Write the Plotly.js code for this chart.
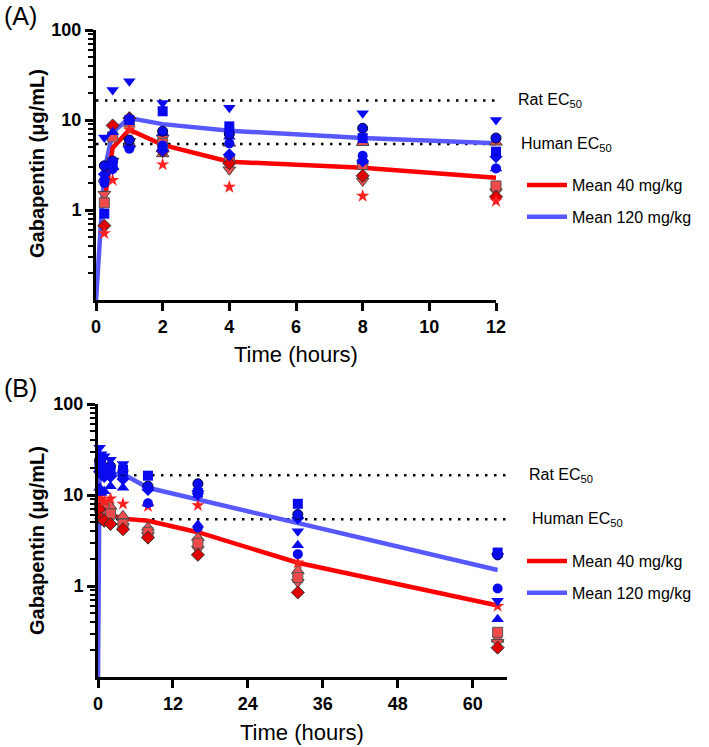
<!DOCTYPE html>
<html>
<head>
<meta charset="utf-8">
<script src="https://cdn.plot.ly/plotly-3.0.1.min.js"></script>
<style>
  html, body { margin: 0; background: #fff; overflow: hidden; }
  #chart { width: 709px; height: 747px; }
</style>
</head>
<body>
<div id="chart"></div>
<script>
// ---- panel A: first 12 h ----
const timeA = [0.25, 0.5, 1, 2, 4, 8, 12];
// 40 mg/kg animals
const a40_diamond = [0.67, 8.7, 10.5, 4.5, 3.3, 2.4, 1.4];
const a40_square  = [1.2, 6.5, 9.5, 5.5, 3.6, 3.2, 1.85];
const a40_triDown = [1.5, 3.5, 5.8, 6.3, 2.8, 2.1, 1.6];
const a40_star    = [0.55, 2.15, 7.8, 3.2, 1.8, 1.43, 1.26];
const a40_triUp   = [2.2, 3.0, 5.5, 4.2, 5.5, 5.6, 5.65];
// 120 mg/kg animals
const a120_circle  = [3.1, 3.5, 6.0, 7.5, 7.0, 8.1, 6.3];
const a120_circle2 = [2.0, 2.85, 4.8, 5.2, 5.5, 4.0, 2.9];
const a120_square  = [0.91, 3.3, 10.0, 12.5, 8.5, 6.3, 4.45];
const a120_triDown = [6.4, 21.5, 27, 15.4, 13.7, 11.9, 10.0];
const a120_diamond = [2.5, 2.9, 5.0, 4.6, 4.1, 3.5, 3.9];
const a120_triUp   = [2.3, 7.3, 10.5, 7.2, 6.5, 3.5, 2.9];
// means
const meanTimeA40 = [0.25, 0.5, 1, 2, 4, 8, 12];
const meanA40 = [1.25, 4.9, 7.8, 5.3, 3.44, 2.94, 2.28];
const meanTimeA120 = [0, 0.25, 0.5, 1, 2, 4, 8, 12];
const meanA120 = [0.1, 2.7, 7.3, 10.5, 9.0, 7.6, 6.3, 5.5];

// ---- panel B: up to 64 h ----
const timeB = [0.25, 0.5, 1, 2, 4, 8, 16, 32, 64];
const b40_diamond = [7.0, 5.5, 5.2, 4.8, 4.2, 3.4, 2.2, 0.85, 0.21];
const b40_square  = [8.0, 7.5, 7.0, 6.2, 4.8, 3.9, 2.95, 1.24, 0.31];
const b40_triDown = [7.5, 6.0, 6.0, 5.5, 4.5, 3.6, 2.54, 1.1, 0.24];
const b40_star    = [9.7, 9.0, 8.5, 9.1, 8.0, 7.5, 7.7, 1.8, 0.6];
const b40_triUp   = [8.5, 7.0, 6.5, 7.5, 5.9, 4.4, 3.4, 1.47, 0.26];
const b120_circle  = [24, 21, 20, 20.6, 18.5, 12.5, 13.3, 6.1, 2.2];
const b120_circle2 = [22, 19, 18, 17, 16, 8.1, 4.4, 2.24, 0.94];
const b120_square  = [20, 22, 19, 18, 19, 16.3, 10.6, 8.0, 2.33];
const b120_triDown = [33, 28, 26.6, 24.4, 21.9, 11.5, 9.8, 4.0, 0.69];
const b120_diamond = [18, 17, 16, 16, 15, 11.5, 11.0, 5.6, 2.25];
const b120_triUp   = [12, 10.5, 11, 12.5, 12, 8, 4.7, 2.8, 0.43];
const meanTimeB40 = [0.25, 0.5, 1, 2, 4, 8, 16, 32, 64];
const meanB40 = [8.2, 7.5, 6.9, 6.1, 5.5, 5.2, 3.9, 1.8, 0.61];
const meanTimeB120 = [0, 0.25, 0.5, 1, 2, 4, 8, 16, 32, 64];
const meanB120 = [0.1, 20, 19, 18, 17, 17, 12, 8.9, 5.0, 1.5];

const ratEC50 = 16.5;
const humanEC50 = 5.4;
const xEndA = 12;
const xEndB = 65.5;
const xTicksA = [0, 2, 4, 6, 8, 10, 12];
const xTicksB = [0, 12, 24, 36, 48, 60];
const yTicks = [1, 10, 100];

const RED = "#ff0000";
const BLUE_LINE = "#5858ff";
const BLUE_PT = "#0a0aee";

// marker style per animal
const redStyle = {
  diamond: { symbol: "diamond", color: "#e00000", line: { color: "#333", width: 1 }, size: 10 },
  square: { symbol: "square", color: "#f04a4a", line: { color: "#555", width: 1 }, size: 10 },
  triDown: { symbol: "triangle-down", color: "#ee5050", line: { color: "#444", width: 1 }, size: 11 },
  star: { symbol: "star", color: "#ff2020", line: { width: 0 }, size: 10 },
  triUp: { symbol: "triangle-up", color: "#f05050", line: { color: "#444", width: 1 }, size: 11 },
};
const blueStyle = {
  circle: { symbol: "circle", color: BLUE_PT, line: { color: "#000044", width: 1 }, size: 10 },
  circle2: { symbol: "circle", color: BLUE_PT, line: { width: 0 }, size: 10 },
  square: { symbol: "square", color: BLUE_PT, line: { width: 0 }, size: 10 },
  triDown: { symbol: "triangle-down", color: BLUE_PT, line: { width: 0 }, size: 11 },
  diamond: { symbol: "diamond", color: BLUE_PT, line: { width: 0 }, size: 10 },
  triUp: { symbol: "triangle-up", color: BLUE_PT, line: { width: 0 }, size: 11 },
};

const pts = (x, y, style, xa, ya) => ({
  x: x, y: y, xaxis: xa, yaxis: ya, type: "scatter", mode: "markers",
  marker: style, showlegend: false, cliponaxis: false, hoverinfo: "skip",
});

const ecLine = (val, xEnd, xa, ya) => ({
  x: [0, xEnd], y: [val, val], xaxis: xa, yaxis: ya, type: "scatter", mode: "lines",
  line: { color: "#000", width: 2.5, dash: "2.5px,6.5px" }, showlegend: false, hoverinfo: "skip",
});

const meanLine = (x, y, color, name, xa, ya, lg, rank) => ({
  x: x, y: y, xaxis: xa, yaxis: ya, type: "scatter", mode: "lines", name: name,
  line: { color: color, width: 4.5 }, legend: lg, legendrank: rank, legendgroup: name + lg,
  cliponaxis: true,
});

const data = [
  ecLine(ratEC50, xEndA, "x", "y"),
  ecLine(humanEC50, xEndA, "x", "y"),
  meanLine(meanTimeA120, meanA120, BLUE_LINE, "Mean 120 mg/kg", "x", "y", "legend", 2),
  meanLine(meanTimeA40, meanA40, RED, "Mean 40 mg/kg", "x", "y", "legend", 1),
  pts(timeA, a40_triUp, redStyle.triUp, "x", "y"),
  pts(timeA, a40_triDown, redStyle.triDown, "x", "y"),
  pts(timeA, a40_square, redStyle.square, "x", "y"),
  pts(timeA, a40_diamond, redStyle.diamond, "x", "y"),
  pts(timeA, a40_star, redStyle.star, "x", "y"),
  pts(timeA, a120_triUp, blueStyle.triUp, "x", "y"),
  pts(timeA, a120_diamond, blueStyle.diamond, "x", "y"),
  pts(timeA, a120_circle2, blueStyle.circle2, "x", "y"),
  pts(timeA, a120_circle, blueStyle.circle, "x", "y"),
  pts(timeA, a120_square, blueStyle.square, "x", "y"),
  pts(timeA, a120_triDown, blueStyle.triDown, "x", "y"),

  ecLine(ratEC50, xEndB, "x2", "y2"),
  ecLine(humanEC50, xEndB, "x2", "y2"),
  meanLine(meanTimeB120, meanB120, BLUE_LINE, "Mean 120 mg/kg", "x2", "y2", "legend2", 2),
  meanLine(meanTimeB40, meanB40, RED, "Mean 40 mg/kg", "x2", "y2", "legend2", 1),
  pts(timeB, b40_triUp, redStyle.triUp, "x2", "y2"),
  pts(timeB, b40_triDown, redStyle.triDown, "x2", "y2"),
  pts(timeB, b40_square, redStyle.square, "x2", "y2"),
  pts(timeB, b40_diamond, redStyle.diamond, "x2", "y2"),
  pts(timeB, b40_star, redStyle.star, "x2", "y2"),
  pts(timeB, b120_triUp, blueStyle.triUp, "x2", "y2"),
  pts(timeB, b120_diamond, blueStyle.diamond, "x2", "y2"),
  pts(timeB, b120_circle2, blueStyle.circle2, "x2", "y2"),
  pts(timeB, b120_circle, blueStyle.circle, "x2", "y2"),
  pts(timeB, b120_square, blueStyle.square, "x2", "y2"),
  pts(timeB, b120_triDown, blueStyle.triDown, "x2", "y2"),
];

const W = 709, H = 747;
const FONT = "Arial, 'Liberation Sans', sans-serif";
const px = (v) => v / W;
const py = (v) => 1 - v / H;
const bold = (v) => "<b>" + v + "</b>";

// minor tick positions for the log axis (2..9 in each decade)
const minorVals = [];
[0.1, 1, 10].forEach((d) => { for (let k = 2; k <= 9; k++) minorVals.push(d * k); });

const yAxisBase = {
  type: "log", range: [-1, 2], tickmode: "array", tickvals: yTicks, ticktext: yTicks.map(bold),
  ticks: "outside", ticklen: 8, tickwidth: 3, tickcolor: "#000",
  minor: { tickmode: "array", tickvals: minorVals, ticks: "outside", ticklen: 5, tickwidth: 2, tickcolor: "#000" },
  showline: true, linewidth: 3, linecolor: "#000", showgrid: false, zeroline: false,
  tickfont: { family: FONT, size: 18, color: "#000" },
};
const xAxisBase = {
  ticks: "outside", ticklen: 8, tickwidth: 3, tickcolor: "#000", tickmode: "array",
  showline: true, linewidth: 3, linecolor: "#000", showgrid: false, zeroline: false,
  tickfont: { family: FONT, size: 18, color: "#000" },
};

const txt = (text, x, y, size, extra) => Object.assign({
  text: text, xref: "paper", yref: "paper", x: x, y: y, showarrow: false,
  xanchor: "center", yanchor: "middle",
  font: { family: FONT, size: size, color: "#000" },
}, extra || {});

const legendBase = {
  xanchor: "left", yanchor: "top", bgcolor: "rgba(0,0,0,0)",
  itemwidth: 40, tracegroupgap: 8, traceorder: "grouped",
  font: { family: FONT, size: 16, color: "#000" },
};

const layout = {
  width: W, height: H,
  margin: { l: 0, r: 0, t: 0, b: 0, autoexpand: false },
  paper_bgcolor: "#fff", plot_bgcolor: "#fff",
  showlegend: true,
  xaxis: Object.assign({}, xAxisBase, { domain: [px(96), px(496)], range: [0, xEndA], tickvals: xTicksA, ticktext: xTicksA.map(bold), anchor: "y" }),
  yaxis: Object.assign({}, yAxisBase, { domain: [py(300), py(30)], anchor: "x" }),
  xaxis2: Object.assign({}, xAxisBase, { domain: [px(98), px(507)], range: [0, xEndB], tickvals: xTicksB, ticktext: xTicksB.map(bold), anchor: "y2" }),
  yaxis2: Object.assign({}, yAxisBase, { domain: [py(677), py(404)], anchor: "x2" }),
  legend: Object.assign({}, legendBase, { x: px(522), y: py(168) }),
  legend2: Object.assign({}, legendBase, { x: px(522), y: py(544) }),
  annotations: [
    txt("(A)", px(20), py(16), 25),
    txt("(B)", px(20), py(388), 25),
    txt("<b>Gabapentin (μg/mL)</b>", px(37), py(164), 20, { textangle: -90 }),
    txt("<b>Gabapentin (μg/mL)</b>", px(37), py(541), 20, { textangle: -90 }),
    txt("Time (hours)", px(296), py(354), 22),
    txt("Time (hours)", px(302), py(732), 22),
    txt("Rat EC<sub>50</sub>", px(516), Math.log10(ratEC50), 16, { yref: "y", xanchor: "left" }),
    txt("Human EC<sub>50</sub>", px(519), Math.log10(humanEC50), 16, { yref: "y", xanchor: "left" }),
    txt("Rat EC<sub>50</sub>", px(527), Math.log10(ratEC50), 16, { yref: "y2", xanchor: "left" }),
    txt("Human EC<sub>50</sub>", px(530), Math.log10(humanEC50), 16, { yref: "y2", xanchor: "left" }),
  ],
};

Plotly.newPlot("chart", data, layout, { displayModeBar: false, staticPlot: true });
</script>
</body>
</html>
